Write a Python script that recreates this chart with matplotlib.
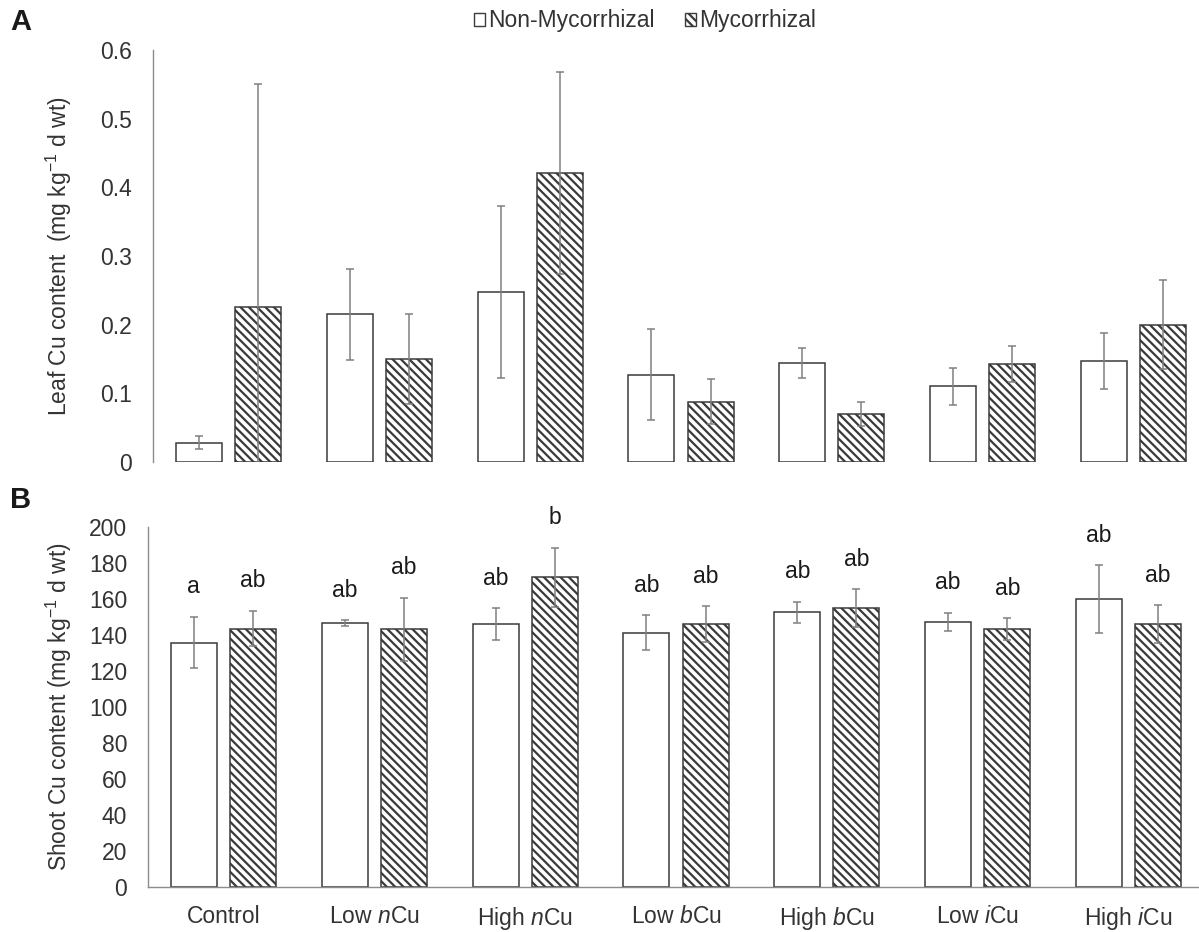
import numpy as np
import matplotlib.pyplot as plt
from matplotlib.patches import Patch
from matplotlib.transforms import blended_transform_factory

plt.rcParams['font.family'] = ['Liberation Sans', 'DejaVu Sans']
plt.rcParams['mathtext.fontset'] = 'custom'
plt.rcParams['mathtext.rm'] = 'Liberation Sans'
plt.rcParams['mathtext.it'] = 'Liberation Sans:italic'
plt.rcParams['hatch.linewidth'] = 1.6
plt.rcParams['hatch.color'] = '#1a1a1a'

# treatments on the x axis
treatments = ['Control', 'Low $\\mathit{n}$Cu', 'High $\\mathit{n}$Cu', 'Low $\\mathit{b}$Cu',
              'High $\\mathit{b}$Cu', 'Low $\\mathit{i}$Cu', 'High $\\mathit{i}$Cu']
series = ['Non-Mycorrhizal', 'Mycorrhizal']

# panel A : leaf Cu
leaf_nm = [0.028, 0.215, 0.248, 0.127, 0.144, 0.110, 0.147]
leaf_nm_err = [0.0095, 0.066, 0.125, 0.066, 0.022, 0.027, 0.041]
leaf_m = [0.226, 0.150, 0.421, 0.088, 0.070, 0.143, 0.200]
leaf_m_err = [0.325, 0.066, 0.147, 0.033, 0.017, 0.026, 0.065]
leaf_ticks = [0, 0.1, 0.2, 0.3, 0.4, 0.5, 0.6]
leaf_ticklabels = ['0', '0.1', '0.2', '0.3', '0.4', '0.5', '0.6']

# panel B : shoot Cu
shoot_nm = [135.5, 146.5, 145.8, 141.1, 152.4, 147.0, 159.8]
shoot_nm_err = [14.3, 1.5, 8.8, 9.7, 5.9, 5.1, 18.8]
shoot_m = [143.3, 143.0, 171.9, 145.9, 154.8, 143.0, 145.8]
shoot_m_err = [9.8, 17.5, 16.4, 9.9, 10.5, 6.1, 10.5]
shoot_ticks = list(range(0, 201, 20))
letters_nm = ['a', 'ab', 'ab', 'ab', 'ab', 'ab', 'ab']
letters_m = ['ab', 'ab', 'b', 'ab', 'ab', 'ab', 'ab']

W, H = 1199, 932
fig = plt.figure(figsize=(W / 100, H / 100), dpi=100)
ax1 = fig.add_axes([153 / W, 1 - 462 / H, 1056 / W, 412 / H])
ax2 = fig.add_axes([148 / W, 1 - 886.5 / H, 1056 / W, 359.8 / H])

x = np.arange(len(treatments))
off, bw = 0.196, 0.305
edge = '#3a3a3a'
ecol = '#808080'
txt = '#333333'
hatch = '\\\\\\\\'
fs = 16.5


def draw(ax, nm, nm_err, m, m_err):
    ax.bar(x - off, nm, bw, color='white', edgecolor=edge, linewidth=1.1, zorder=2)
    ax.bar(x + off, m, bw, color='white', edgecolor=edge, linewidth=1.1, hatch=hatch, zorder=2)
    ax.errorbar(x - off, nm, yerr=nm_err, fmt='none', ecolor=ecol, elinewidth=1.1,
                capsize=3, capthick=1.1, zorder=3)
    ax.errorbar(x + off, m, yerr=m_err, fmt='none', ecolor=ecol, elinewidth=1.1,
                capsize=3, capthick=1.1, zorder=3)
    ax.set_xlim(-0.5, 6.5)
    for s in ['top', 'right']:
        ax.spines[s].set_visible(False)
    ax.spines['left'].set_color('#8c8c8c')
    ax.spines['left'].set_linewidth(1.0)
    ax.tick_params(length=0, labelsize=fs, labelcolor=txt)
    ax.tick_params(axis='y', pad=15)


draw(ax1, leaf_nm, leaf_nm_err, leaf_m, leaf_m_err)
ax1.set_ylim(0, 0.6)
ax1.set_yticks(leaf_ticks)
ax1.set_yticklabels(leaf_ticklabels)
ax1.spines['bottom'].set_visible(False)
ax1.set_xticks([])
ax1.set_ylabel('Leaf Cu content  (mg kg$^{-1}$ d wt)', fontsize=16.5, color=txt)

draw(ax2, shoot_nm, shoot_nm_err, shoot_m, shoot_m_err)
ax2.set_ylim(0, 200)
ax2.set_yticks(shoot_ticks)
ax2.spines['bottom'].set_color('#8c8c8c')
ax2.spines['bottom'].set_linewidth(1.0)
ax2.set_xticks(x)
ax2.set_xticklabels(treatments)
ax2.tick_params(axis='x', pad=13)
ax2.set_ylabel('Shoot Cu content (mg kg$^{-1}$ d wt)', fontsize=16.5, color=txt)

for xi, v, e, l in zip(x - off, shoot_nm, shoot_nm_err, letters_nm):
    ax2.annotate(l, (xi, v + e), xytext=(0, 17), textcoords='offset points',
                 ha='center', va='baseline', fontsize=fs, color='#1a1a1a')
for xi, v, e, l in zip(x + off, shoot_m, shoot_m_err, letters_m):
    ax2.annotate(l, (xi, v + e), xytext=(0, 17), textcoords='offset points',
                 ha='center', va='baseline', fontsize=fs, color='#1a1a1a')

for ax in (ax1, ax2):
    tr = blended_transform_factory(fig.transFigure, ax.transAxes)
    ax.yaxis.set_label_coords(74 / W, 0.5, transform=tr)

handles = [Patch(facecolor='white', edgecolor=edge, linewidth=1.0),
           Patch(facecolor='white', edgecolor=edge, linewidth=1.0, hatch=hatch)]
fig.legend(handles, series, loc='center', bbox_to_anchor=(645 / W, 1 - 21 / H), ncol=2,
           frameon=False, handlelength=0.5, handleheight=0.5, handletextpad=0.15,
           columnspacing=1.3, fontsize=fs, labelcolor=txt)

fig.text(10 / W, 1 - 22 / H, 'A', fontsize=21, fontweight='bold', va='center', color='#1a1a1a')
fig.text(10 / W, 1 - 500 / H, 'B', fontsize=21, fontweight='bold', va='center', color='#1a1a1a')

fig.savefig('out.png', dpi=100)
